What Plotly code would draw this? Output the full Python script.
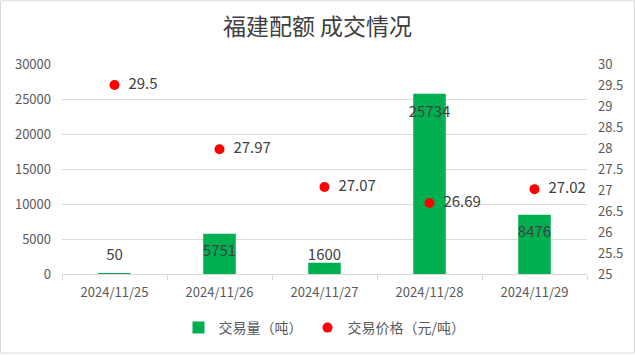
import plotly.graph_objects as go

dates = ["2024/11/25", "2024/11/26", "2024/11/27", "2024/11/28", "2024/11/29"]
volume = [50, 5751, 1600, 25734, 8476]
price = [29.5, 27.97, 27.07, 26.69, 27.02]

L, R, T, B = 62, 48, 64, 80
W, H = 635, 355
pw, ph = W - L - R, H - T - B
YMAX = 30000
k = YMAX / ph  # data units per pixel
# Excel "inside end" labels: 19px below bar top, clamped to stay above the axis
vol_label_y = [max(v - 19 * k, 18 * k) for v in volume]

fig = go.Figure()
fig.add_trace(go.Bar(
    x=dates, y=volume, name="交易量（吨）",
    marker=dict(color="#00B050", line=dict(width=0)),
    width=0.31,
))
fig.add_trace(go.Scatter(
    x=dates, y=vol_label_y, mode="text", showlegend=False, hoverinfo="skip",
    text=[str(v) for v in volume], textposition="middle center",
    textfont=dict(size=15, color="#404040"), cliponaxis=False,
))
fig.add_trace(go.Scatter(
    x=dates, y=price, name="交易价格（元/吨）", yaxis="y2",
    mode="markers+text",
    marker=dict(color="#FF0000", size=10),
    text=["\u00a0\u00a0" + f"{p:g}" for p in price],
    textposition="middle right",
    textfont=dict(size=15, color="#404040"),
    cliponaxis=False,
))

fig.update_layout(
    width=W, height=H,
    margin=dict(l=L, r=R, t=T, b=B),
    paper_bgcolor="white", plot_bgcolor="white",
    font=dict(family="Noto Sans CJK SC, Noto Sans, sans-serif", color="#595959"),
    title=dict(text="福建配额 成交情况", x=0.5, xanchor="center", y=1 - 27 / H, yanchor="middle",
               font=dict(size=23, color="#404040", family="Noto Sans CJK SC")),
    xaxis=dict(type="category", showgrid=False, showline=True, linecolor="#d9d9d9",
               ticks="outside", tickson="boundaries", ticklen=5, tickcolor="#d9d9d9",
               tickfont=dict(size=13, color="#595959"), zeroline=False,
               ticklabelstandoff=6),
    yaxis=dict(range=[0, YMAX], dtick=5000, showgrid=True, gridcolor="#d9d9d9",
               showline=False, zeroline=False, ticks="", tickfont=dict(size=13, color="#595959"),
               tickformat="d", ticklabelstandoff=10),
    yaxis2=dict(range=[25, 30], dtick=0.5, overlaying="y", side="right", showgrid=False,
                showline=False, zeroline=False, ticks="", tickfont=dict(size=13, color="#595959"),
                ticklabelstandoff=10),
    legend=dict(orientation="h", x=0.5, xanchor="center", y=-(328 - 275) / ph, yanchor="middle",
                font=dict(size=14, color="#595959"), itemwidth=30, traceorder="normal"),
    shapes=[dict(type="rect", xref="paper", yref="paper",
                 x0=(0.5 - L) / pw, x1=(W - 0.5 - L) / pw,
                 y0=(H - 0.5 - (H - B)) / -ph, y1=(T - 0.5) / ph + 1,
                 line=dict(color="#d9d9d9", width=1), layer="below")],
)
fig.write_html("out.html")
